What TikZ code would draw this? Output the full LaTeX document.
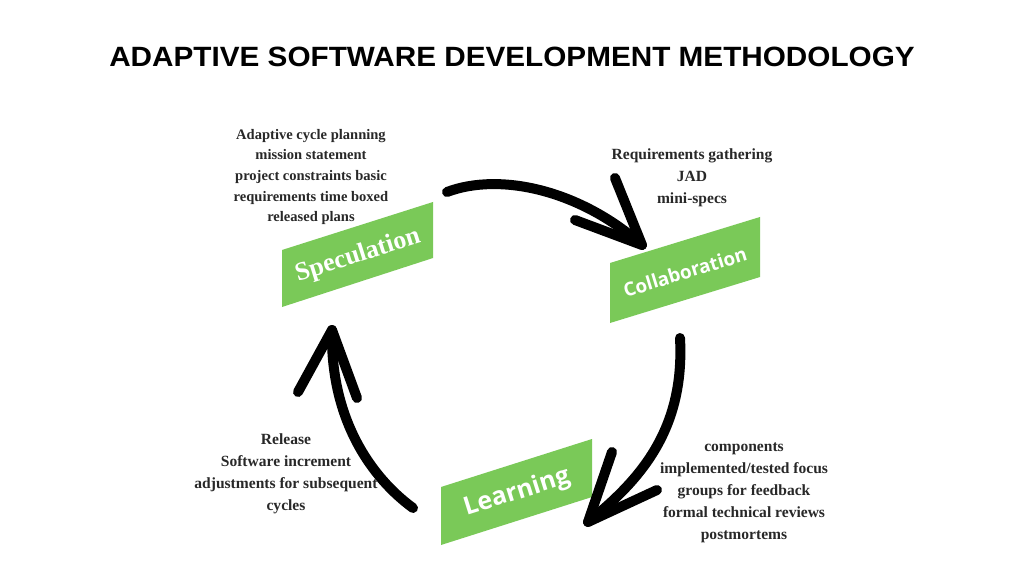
\documentclass[tikz,border=0pt]{standalone}
\usepackage{fontspec}
\setmainfont{Liberation Serif}
\newfontfamily\titlefont{Liberation Sans}
\newfontfamily\boxfont{Open Sans}
\definecolor{boxgreen}{RGB}{122,201,88}
\definecolor{txt}{RGB}{40,40,40}
\begin{document}
\begin{tikzpicture}[x=1bp,y=-1bp,
  note/.style={align=center, text=txt, inner sep=0pt, font=\bfseries\fontsize{15.6}{22.2}\selectfont},
  phasebox/.style={fill=boxgreen, draw=none},
  phaselabel/.style={text=white, inner sep=0pt, rotate=17.5},
  arc/.style={line width=10bp, line cap=round, line join=round, black}]
\useasboundingbox[fill=white] (0,0) rectangle (1024,576);

\node[font=\titlefont\bfseries\fontsize{28}{28}\selectfont] (title) at (512,57) {\scalebox{1.065}[1]{ADAPTIVE SOFTWARE DEVELOPMENT METHODOLOGY}};

% phase boxes
\fill[phasebox] (282,250) -- (433,202) -- (433,258) -- (282,307) -- cycle;
\node[phaselabel, font=\bfseries\fontsize{26}{26}\selectfont] (spec) at (358,256) {Speculation};

\fill[phasebox] (610,263) -- (760,217) -- (760,277) -- (610,323) -- cycle;
\node[phaselabel, rotate=-0.5, font=\boxfont\bfseries\fontsize{19}{19}\selectfont] (coll) at (685,272) {Collaboration};

\fill[phasebox] (441,487) -- (592,439) -- (592,497) -- (441,545) -- cycle;
\node[phaselabel, font=\boxfont\bfseries\fontsize{25}{25}\selectfont] (learn) at (517,493) {Learning};

% notes
\node[note, font=\bfseries\fontsize{14.6}{20.75}\selectfont] (specnote) at (311,177) {Adaptive cycle planning\\mission statement\\project constraints basic\\requirements time boxed\\released plans};
\node[note] (collnote) at (692,178) {Requirements gathering\\JAD\\mini-specs};
\node[note] (learnnote) at (744,493) {components\\implemented/tested focus\\groups for feedback\\formal technical reviews\\postmortems};
\node[note] (relnote) at (286,474) {Release\\Software increment\\adjustments for subsequent\\cycles};

% arrow coordinates
\coordinate (a1s) at (447,192);
\coordinate (a1t) at (642,245);
\coordinate (a1b) at (615,178);
\coordinate (a1c) at (575,220);
\coordinate (a2s) at (680,338);
\coordinate (a2t) at (588,522);
\coordinate (a2b) at (612,452);
\coordinate (a2c) at (657,490);
\coordinate (a3s) at (413,508);
\coordinate (a3t) at (332,330);
\coordinate (a3b) at (298,392);
\coordinate (a3c) at (357,398);

% arrows
\draw[arc] (a1s) .. controls (500,172) and (580,190) .. (a1t);
\draw[arc] (a1b) -- (a1t) -- (a1c);
\draw[arc] (a2s) .. controls (685,430) and (640,480) .. (a2t);
\draw[arc] (a2b) -- (a2t) -- (a2c);
\draw[arc] (a3s) .. controls (372,478) and (330,420) .. (a3t);
\draw[arc] (a3b) -- (a3t) -- (a3c);
\end{tikzpicture}
\end{document}
